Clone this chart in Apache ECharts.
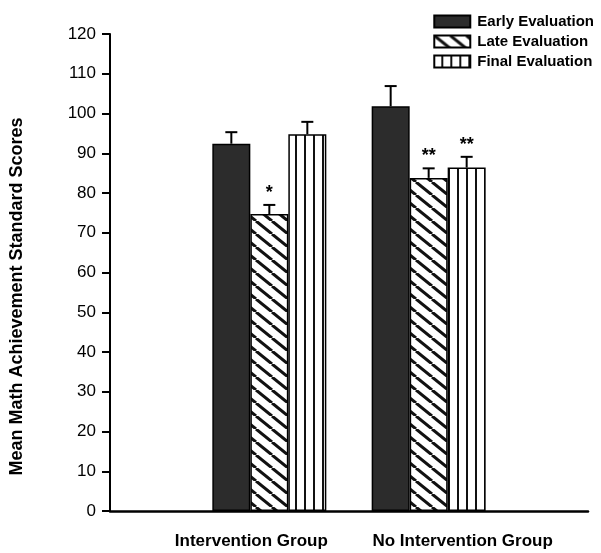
<!DOCTYPE html>
<html>
<head>
<meta charset="utf-8">
<script src="https://cdn.jsdelivr.net/npm/echarts@6/dist/echarts.min.js"></script>
<style>html,body{margin:0;padding:0;background:#fff}#c{width:601px;height:553px}</style>
</head>
<body>
<div id="c"></div>
<script>
// ---- data ----
var groups = ['Intervention Group', 'No Intervention Group'];
var seriesNames = ['Early Evaluation', 'Late Evaluation', 'Final Evaluation'];
var early = [92.4, 101.8];
var late = [74.7, 83.8];
var finalEval = [94.8, 86.4];
var earlyErr = [2.9, 5.1];
var lateErr = [2.3, 2.4];
var finalErr = [3.1, 2.7];
var earlyMarks = ['', ''];
var lateMarks = ['*', '**'];
var finalMarks = ['', '**'];
var yTicks = [0, 10, 20, 30, 40, 50, 60, 70, 80, 90, 100, 110, 120];

// ---- patterns ----
function hatchPattern() {
  var w = 16, h = 13;
  var c = document.createElement('canvas'); c.width = w; c.height = h;
  var g = c.getContext('2d');
  g.fillStyle = '#fff'; g.fillRect(0, 0, w, h);
  g.strokeStyle = '#111'; g.lineWidth = 3;
  [-w, 0, w].forEach(function (o) { g.beginPath(); g.moveTo(o, 0); g.lineTo(o + w, h); g.stroke(); });
  return c;
}
function vertPattern() {
  var c = document.createElement('canvas'); c.width = 9; c.height = 10;
  var g = c.getContext('2d');
  g.fillStyle = '#fff'; g.fillRect(0, 0, 9, 10);
  g.fillStyle = '#111'; g.fillRect(7, 0, 2, 10);
  return c;
}
var fills = ['#2c2c2c', { image: hatchPattern(), repeat: 'repeat' }, { image: vertPattern(), repeat: 'repeat' }];

var cats = [''].concat(groups).concat(['']);
function pad(arr) { return ['-'].concat(arr).concat(['-']); }
var values = [early, late, finalEval];
var errs = [earlyErr, lateErr, finalErr];
var marks = [earlyMarks, lateMarks, finalMarks];
var BAR_W = 38;
var FONT = 'Liberation Sans, Arial, sans-serif';

var series = values.map(function (v, i) {
  return {
    name: seriesNames[i], type: 'bar', data: pad(v), barWidth: BAR_W, barGap: '0%',
    itemStyle: { color: fills[i], borderColor: '#000', borderWidth: 1.5 }
  };
});

var errData = [];
values.forEach(function (v, s) {
  v.forEach(function (val, g) { errData.push([g + 1, val, errs[s][g], s, marks[s][g]]); });
});

series.push({
  type: 'custom', name: 'err', z: 5,
  data: errData,
  renderItem: function (params, api) {
    var item = errData[params.dataIndex];
    var base = api.coord([item[0], item[1]]);
    var top = api.coord([item[0], item[1] + item[2]]);
    var x = base[0] + (item[3] - 1) * BAR_W;
    var children = [
      { type: 'line', shape: { x1: x, y1: base[1], x2: x, y2: top[1] }, style: { stroke: '#000', lineWidth: 2 } },
      { type: 'line', shape: { x1: x - 6, y1: top[1], x2: x + 6, y2: top[1] }, style: { stroke: '#000', lineWidth: 2 } }
    ];
    if (item[4]) {
      children.push({ type: 'text', style: { text: item[4], x: x, y: top[1] - 12, align: 'center', verticalAlign: 'middle', fontSize: 18, fontWeight: 'bold', fontFamily: FONT, fill: '#000' } });
    }
    return { type: 'group', children: children };
  }
});

var chart = echarts.init(document.getElementById('c'));
chart.setOption({
  animation: false,
  backgroundColor: '#fff',
  grid: { left: 110, right: 13, top: 34, bottom: 42 },
  legend: {
    data: seriesNames, orient: 'vertical', right: 2, top: 9, align: 'left', icon: 'rect',
    itemWidth: 36, itemHeight: 12, itemGap: 5,
    textStyle: { fontSize: 15, fontWeight: 'bold', fontFamily: FONT, color: '#000', padding: [0, 0, 0, 2] }
  },
  xAxis: {
    type: 'category', data: cats, boundaryGap: false,
    axisLine: { lineStyle: { color: '#000', width: 2.5 } },
    axisTick: { show: false },
    axisLabel: {
      interval: 0, margin: 22, color: '#000',
      formatter: function (val) {
        if (val === groups[0]) return '{a|' + val + '}';
        if (val === groups[1]) return '{b|' + val + '}';
        return '';
      },
      rich: {
        a: { fontSize: 17, fontWeight: 'bold', fontFamily: FONT, color: '#000', padding: [0, 36, 0, 0] },
        b: { fontSize: 17, fontWeight: 'bold', fontFamily: FONT, color: '#000', padding: [0, 0, 0, 68] }
      }
    }
  },
  yAxis: {
    type: 'value', min: yTicks[0], max: yTicks[yTicks.length - 1], interval: yTicks[1] - yTicks[0],
    name: 'Mean Math Achievement Standard Scores', nameLocation: 'middle', nameGap: 84,
    nameTextStyle: { fontSize: 18, fontWeight: 'bold', fontFamily: FONT, color: '#000', padding: [0, 48, 0, 0] },
    axisLine: { show: true, lineStyle: { color: '#000', width: 2 } },
    axisTick: { show: true, length: 8, lineStyle: { color: '#000', width: 2 } },
    axisLabel: { fontSize: 17, fontFamily: FONT, color: '#000', margin: 14 },
    splitLine: { show: false }
  },
  series: series
});
</script>
</body>
</html>
